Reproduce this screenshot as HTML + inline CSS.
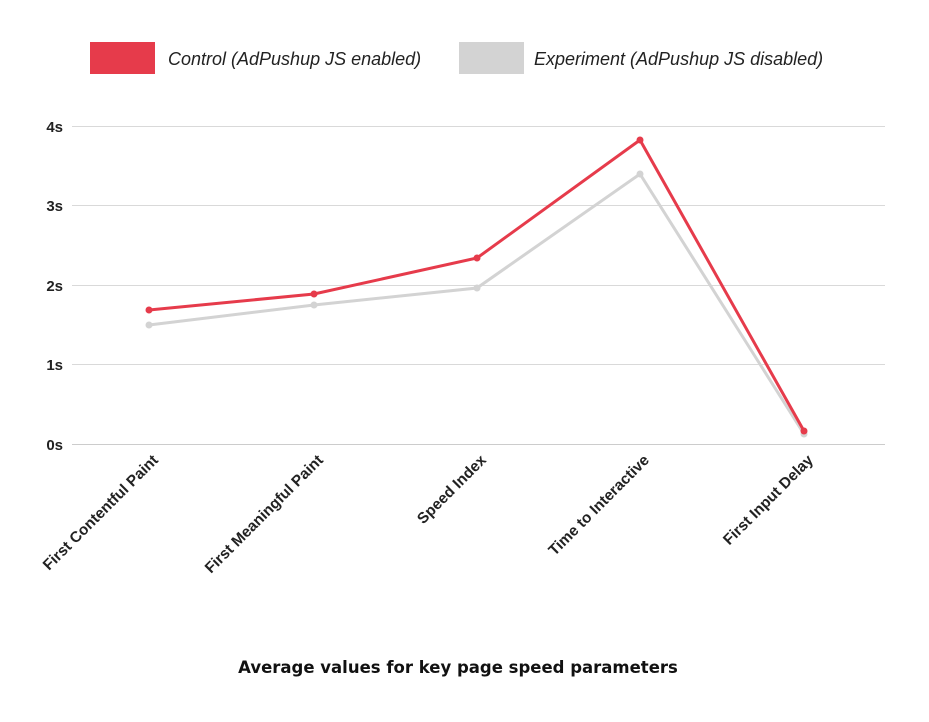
<!DOCTYPE html>
<html><head><meta charset="utf-8"><style>
body{margin:0;background:#fff;}
</style></head><body>
<svg width="929" height="717" xmlns="http://www.w3.org/2000/svg" font-family="Liberation Sans, Arial, sans-serif">
<rect width="929" height="717" fill="#fff"/>
<rect x="90" y="42" width="65" height="32" fill="#e63b4b"/>
<text x="168" y="65" font-size="18" font-style="italic" fill="#222">Control (AdPushup JS enabled)</text>
<rect x="459" y="42" width="65" height="32" fill="#d3d3d3"/>
<text x="534" y="65" font-size="18" font-style="italic" fill="#222">Experiment (AdPushup JS disabled)</text>
<g stroke="#d9d9d9" stroke-width="1">
<line x1="72" y1="126.5" x2="885" y2="126.5"/>
<line x1="72" y1="205.5" x2="885" y2="205.5"/>
<line x1="72" y1="285.5" x2="885" y2="285.5"/>
<line x1="72" y1="364.5" x2="885" y2="364.5"/>
<line x1="72" y1="444.5" x2="885" y2="444.5" stroke="#ccc"/>
</g>
<g font-size="15" font-weight="bold" fill="#222" text-anchor="end">
<text x="63" y="132">4s</text>
<text x="63" y="211">3s</text>
<text x="63" y="291">2s</text>
<text x="63" y="370">1s</text>
<text x="63" y="450">0s</text>
</g>
<polyline points="149,325 314,305 477,288 640,174 804,434" fill="none" stroke="#d3d3d3" stroke-width="3"/>
<g fill="#d3d3d3"><circle cx="149" cy="325" r="3.5"/><circle cx="314" cy="305" r="3.5"/><circle cx="477" cy="288" r="3.5"/><circle cx="640" cy="174" r="3.5"/><circle cx="804" cy="434" r="3.5"/></g>
<polyline points="149,310 314,294 477,258 640,140 804,431" fill="none" stroke="#e63b4b" stroke-width="3"/>
<g fill="#e63b4b"><circle cx="149" cy="310" r="3.5"/><circle cx="314" cy="294" r="3.5"/><circle cx="477" cy="258" r="3.5"/><circle cx="640" cy="140" r="3.5"/><circle cx="804" cy="431" r="3.5"/></g>
<g font-size="15.3" font-weight="bold" fill="#222" text-anchor="end">
<text transform="translate(159,461) rotate(-45)">First Contentful Paint</text>
<text transform="translate(324,461) rotate(-45)">First Meaningful Paint</text>
<text transform="translate(487,461) rotate(-45)">Speed Index</text>
<text transform="translate(650,461) rotate(-45)">Time to Interactive</text>
<text transform="translate(814,461) rotate(-45)">First Input Delay</text>
</g>
<text x="458" y="673" font-size="16.5" font-weight="bold" fill="#111" text-anchor="middle" font-family="DejaVu Sans, sans-serif">Average values for key page speed parameters</text>
</svg>
</body></html>
